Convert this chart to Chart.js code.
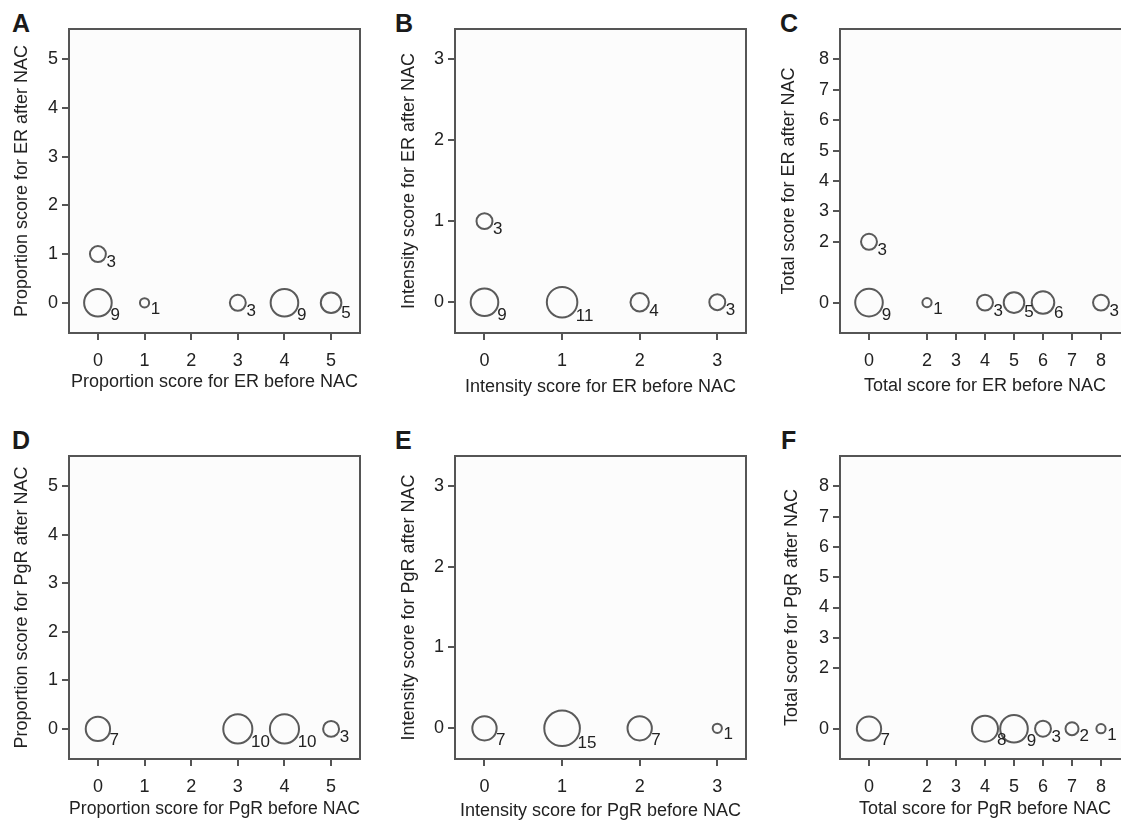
<!DOCTYPE html>
<html>
<head>
<meta charset="utf-8">
<script src="https://cdn.jsdelivr.net/npm/chart.js@4.4.1/dist/chart.umd.min.js"></script>
<style>
    html, body { margin: 0; padding: 0; background: #fff; }
    body { position: relative; width: 1121px; height: 820px; overflow: hidden; }
    canvas { position: absolute; }
    .letter {
        position: absolute;
        font: bold 25px "Liberation Sans", Arial, sans-serif;
        line-height: 25px;
        color: #1a1a1a;
    }
</style>
</head>
<body>
<div class="letter" style="left:12px;top:11px">A</div>
<div class="letter" style="left:395px;top:11px">B</div>
<div class="letter" style="left:780px;top:11px">C</div>
<div class="letter" style="left:12px;top:428px">D</div>
<div class="letter" style="left:395px;top:428px">E</div>
<div class="letter" style="left:781px;top:428px">F</div>

<canvas id="cA" width="370" height="400" style="left:0;top:0"></canvas>
<canvas id="cB" width="376" height="400" style="left:380px;top:0"></canvas>
<canvas id="cC" width="375" height="400" style="left:760px;top:0"></canvas>
<canvas id="cD" width="370" height="425" style="left:0;top:400px"></canvas>
<canvas id="cE" width="376" height="425" style="left:380px;top:400px"></canvas>
<canvas id="cF" width="375" height="425" style="left:760px;top:400px"></canvas>

<script>
// --- Données (score avant NAC, score après NAC, nombre de patientes) ---

// A : proportion ER
const erPropBefore = [0, 0, 1, 3, 4, 5];
const erPropAfter  = [1, 0, 0, 0, 0, 0];
const erPropCount  = [3, 9, 1, 3, 9, 5];

// B : intensité ER
const erIntBefore = [0, 0, 1, 2, 3];
const erIntAfter  = [1, 0, 0, 0, 0];
const erIntCount  = [3, 9, 11, 4, 3];

// C : score total ER
const erTotBefore = [0, 0, 2, 4, 5, 6, 8];
const erTotAfter  = [2, 0, 0, 0, 0, 0, 0];
const erTotCount  = [3, 9, 1, 3, 5, 6, 3];

// D : proportion PgR
const pgrPropBefore = [0, 3, 4, 5];
const pgrPropAfter  = [0, 0, 0, 0];
const pgrPropCount  = [7, 10, 10, 3];

// E : intensité PgR
const pgrIntBefore = [0, 1, 2, 3];
const pgrIntAfter  = [0, 0, 0, 0];
const pgrIntCount  = [7, 15, 7, 1];

// F : score total PgR
const pgrTotBefore = [0, 4, 5, 6, 7, 8];
const pgrTotAfter  = [0, 0, 0, 0, 0, 0];
const pgrTotCount  = [7, 8, 9, 3, 2, 1];

// Graduations
const propTicks  = [0, 1, 2, 3, 4, 5];
const intTicks   = [0, 1, 2, 3];
const totalTicks = [0, 2, 3, 4, 5, 6, 7, 8];

// --- Rendu ---

const FONT = '"Liberation Sans", Arial, sans-serif';
const INK = '#222';
const LINE = '#555';

// fond du cadre, cadre complet et étiquettes d'effectif
const framePlugin = {
    id: 'frame',
    beforeDraw(chart) {
        const a = chart.chartArea;
        const ctx = chart.ctx;
        ctx.save();
        ctx.fillStyle = '#fcfcfc';
        ctx.fillRect(a.left, a.top, a.right - a.left, a.bottom - a.top);
        ctx.restore();
    },
    afterDatasetsDraw(chart) {
        const ctx = chart.ctx;
        const counts = chart.data.datasets[0].counts;
        ctx.save();
        ctx.fillStyle = INK;
        ctx.font = '17px ' + FONT;
        ctx.textAlign = 'left';
        ctx.textBaseline = 'middle';
        chart.getDatasetMeta(0).data.forEach((el, i) => {
            const off = el.options.radius * 0.7 + 3;
            ctx.fillText(String(counts[i]), el.x + off, el.y + off);
        });
        ctx.restore();
    },
    afterDraw(chart) {
        const a = chart.chartArea;
        const ctx = chart.ctx;
        ctx.save();
        ctx.strokeStyle = LINE;
        ctx.lineWidth = 2;
        ctx.strokeRect(a.left, a.top, a.right - a.left, a.bottom - a.top);
        ctx.restore();
    }
};

function axis(o) {
    return {
        type: 'linear',
        min: o.min,
        max: o.max,
        afterBuildTicks: s => { s.ticks = o.ticks.map(v => ({ value: v })); },
        afterFit: s => {
            if (o.width) s.width = o.width;
            if (o.height) s.height = o.height;
        },
        grid: { drawOnChartArea: false, drawTicks: true, tickLength: 7, color: LINE, lineWidth: 2 },
        border: { display: false },
        ticks: {
            autoSkip: false, maxRotation: 0, padding: o.tickPad,
            color: INK, font: { family: FONT, size: 18 }
        },
        title: {
            display: true, text: o.title, color: INK,
            font: { family: FONT, size: 18 },
            padding: o.titlePad
        }
    };
}

function renderPanel(id, before, after, counts, p) {
    return new Chart(document.getElementById(id), {
        type: 'bubble',
        data: {
            datasets: [{
                counts: counts,
                data: before.map((x, i) => ({ x: x, y: after[i], r: 4.6 * Math.sqrt(counts[i]) })),
                backgroundColor: 'rgba(0,0,0,0)',
                borderColor: '#5a5a5a',
                borderWidth: 2,
                clip: false
            }]
        },
        options: {
            responsive: false,
            animation: false,
            events: [],
            devicePixelRatio: 1,
            layout: {
                autoPadding: false,
                padding: { top: p.padTop, right: p.padRight, left: 0, bottom: 0 }
            },
            plugins: { legend: { display: false }, tooltip: { enabled: false } },
            scales: {
                x: axis({
                    min: p.xMin, max: p.xMax, ticks: p.xTicks, height: p.xHeight,
                    tickPad: 10, title: p.xTitle, titlePad: { top: 0, bottom: p.xTitlePad }
                }),
                y: axis({
                    min: p.yMin, max: p.yMax, ticks: p.yTicks, width: p.yWidth,
                    tickPad: 4, title: p.yTitle, titlePad: { top: p.yTitlePad, bottom: 0 }
                })
            }
        },
        plugins: [framePlugin]
    });
}

const propRange = { xMin: -0.62, xMax: 5.62, yMin: -0.62, yMax: 5.62, xTicks: propTicks, yTicks: propTicks };
const intRange  = { xMin: -0.38, xMax: 3.37, yMin: -0.38, yMax: 3.37, xTicks: intTicks, yTicks: intTicks };
const totRange  = { xMin: -1, xMax: 9, yMin: -1, yMax: 9, xTicks: totalTicks, yTicks: totalTicks };

renderPanel('cA', erPropBefore, erPropAfter, erPropCount, Object.assign({}, propRange, {
    padTop: 29, padRight: 10, yWidth: 69, xHeight: 67, yTitlePad: 11, xTitlePad: 7,
    xTitle: 'Proportion score for ER before NAC', yTitle: 'Proportion score for ER after NAC'
}));
renderPanel('cB', erIntBefore, erIntAfter, erIntCount, Object.assign({}, intRange, {
    padTop: 29, padRight: 10, yWidth: 75, xHeight: 67, yTitlePad: 18.5, xTitlePad: 2,
    xTitle: 'Intensity score for ER before NAC', yTitle: 'Intensity score for ER after NAC'
}));
renderPanel('cC', erTotBefore, erTotAfter, erTotCount, Object.assign({}, totRange, {
    padTop: 29, padRight: 5, yWidth: 80, xHeight: 67, yTitlePad: 18, xTitlePad: 3.5,
    xTitle: 'Total score for ER before NAC', yTitle: 'Total score for ER after NAC'
}));
renderPanel('cD', pgrPropBefore, pgrPropAfter, pgrPropCount, Object.assign({}, propRange, {
    padTop: 56, padRight: 10, yWidth: 69, xHeight: 66, yTitlePad: 11, xTitlePad: 5,
    xTitle: 'Proportion score for PgR before NAC', yTitle: 'Proportion score for PgR after NAC'
}));
renderPanel('cE', pgrIntBefore, pgrIntAfter, pgrIntCount, Object.assign({}, intRange, {
    padTop: 56, padRight: 10, yWidth: 75, xHeight: 66, yTitlePad: 18.5, xTitlePad: 3.5,
    xTitle: 'Intensity score for PgR before NAC', yTitle: 'Intensity score for PgR after NAC'
}));
renderPanel('cF', pgrTotBefore, pgrTotAfter, pgrTotCount, Object.assign({}, totRange, {
    padTop: 56, padRight: 5, yWidth: 80, xHeight: 66, yTitlePad: 21.5, xTitlePad: 5,
    xTitle: 'Total score for PgR before NAC', yTitle: 'Total score for PgR after NAC'
}));
</script>
</body>
</html>
